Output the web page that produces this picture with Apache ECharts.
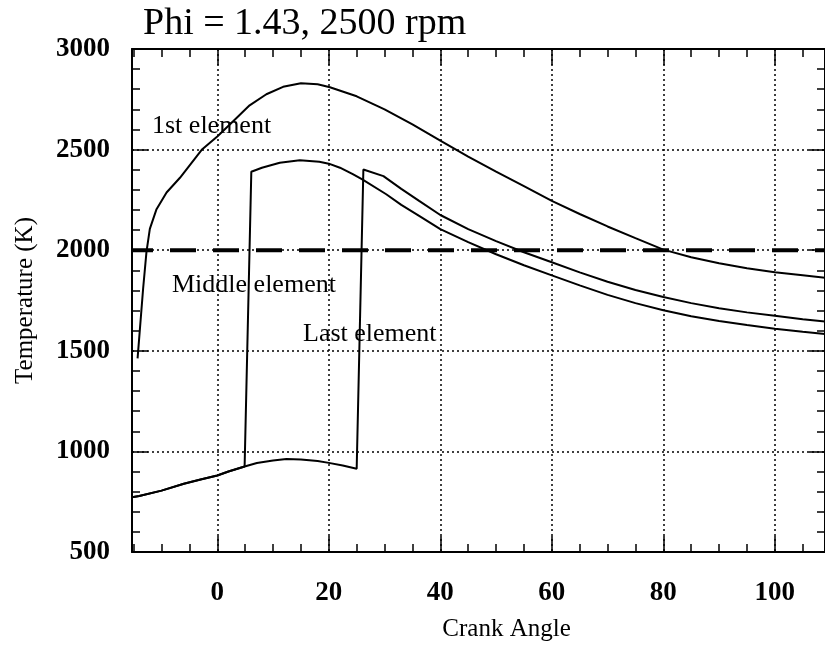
<!DOCTYPE html>
<html>
<head>
<meta charset="utf-8">
<script src="https://cdn.jsdelivr.net/npm/echarts@6/dist/echarts.min.js"></script>
<style>
html,body{margin:0;padding:0;background:#fff;}
#c{width:825px;height:647px;}
</style>
</head>
<body>
<div id="c"></div>
<script>
// ---- data ----
var titleText = 'Phi = 1.43, 2500 rpm';
var xName = 'Crank Angle';
var yName = 'Temperature (K)';
var xMin = -15.3, xMax = 109;
var yMin = 500, yMax = 3000, yStep = 500;
var xMajorTicks = [0, 20, 40, 60, 80, 100];
var xMinorTicks = [-15, -10, -5, 0, 5, 10, 15, 20, 25, 30, 35, 40, 45, 50, 55, 60, 65, 70, 75, 80, 85, 90, 95, 100, 105];

var xFirst = [-14.3, -13.3, -12.7, -12.1, -10.9, -9.1, -6.7, -2.8, 0, 2.8, 5.8, 8.8, 11.8, 15, 18, 20.2, 25, 30, 35, 40, 45, 50, 55, 60, 65, 70, 75, 80, 85, 90, 95, 100, 105, 109];
var tFirst = [1462, 1811, 1993, 2106, 2204, 2287, 2360, 2499, 2565, 2640, 2720, 2775, 2812, 2830, 2825, 2810, 2765, 2700, 2625, 2545, 2465, 2390, 2318, 2245, 2180, 2118, 2060, 2003, 1965, 1935, 1910, 1890, 1875, 1863];

var xMiddle = [-15.3, -14, -10, -6, -3, 0, 2, 4.9, 6.1, 8, 11.2, 14.8, 18.3, 20, 22, 24.3, 26, 30.3, 33, 36.2, 40, 45, 50, 55, 60, 65, 70, 75, 80, 85, 90, 95, 100, 105, 109];
var tMiddle = [772, 778, 805, 839, 860, 880, 900, 925, 2390, 2410, 2435, 2447, 2440, 2430, 2410, 2378, 2352, 2278, 2225, 2171, 2105, 2040, 1980, 1925, 1875, 1825, 1778, 1737, 1702, 1672, 1648, 1628, 1610, 1595, 1584];

var xLast = [-15.3, -14, -10, -6, -3, 0, 2, 4.9, 7.1, 10, 12.4, 15, 18, 20, 22.5, 25, 26.2, 29.8, 33, 36.2, 40, 45, 50, 55, 60, 65, 70, 75, 80, 85, 90, 95, 100, 105, 109];
var tLast = [772, 778, 805, 839, 860, 880, 900, 925, 942, 955, 962, 960, 952, 943, 930, 914, 2401, 2368, 2305, 2245, 2175, 2105, 2045, 1990, 1940, 1890, 1843, 1802, 1767, 1737, 1712, 1691, 1674, 1657, 1645];

var xLimit = [-15.3, 109];
var tLimit = [2000, 2000];

var curveLabels = ['1st element', 'Middle element', 'Last element'];

// ---- chart ----
var FONT = "'Liberation Serif', 'Times New Roman', serif";
function pairs(xs, ys) { return xs.map(function (x, i) { return [x, ys[i]]; }); }
var gridDot = { color: '#000', width: 1.5, type: [2, 3] };

function xAxisDef(pos, ticks, len, withLine, withLabels, withSplit) {
  return {
    type: 'value', position: pos, min: xMin, max: xMax,
    axisLine: { show: withLine, onZero: false, lineStyle: { color: '#000', width: 2 } },
    axisTick: { show: true, inside: true, length: len, customValues: ticks, lineStyle: { color: '#000', width: 1.5 } },
    axisLabel: { show: withLabels, customValues: ticks, margin: 28, color: '#000', fontFamily: FONT, fontSize: 27, fontWeight: 'bold' },
    splitLine: { show: withSplit, lineStyle: gridDot },
    name: withLabels ? xName : '', nameLocation: 'middle', nameGap: 65,
    nameTextStyle: { color: '#000', fontFamily: FONT, fontSize: 25, padding: [0, 0, 0, 56] }
  };
}
function yAxisDef(pos, withLabels) {
  return {
    type: 'value', position: pos, min: yMin, max: yMax, interval: yStep,
    axisLine: { show: true, onZero: false, lineStyle: { color: '#000', width: 2 } },
    axisTick: { show: true, inside: true, length: 16, lineStyle: { color: '#000', width: 1.5 } },
    minorTick: { show: true, splitNumber: 5, length: 8, lineStyle: { color: '#000', width: 1.5 } },
    axisLabel: { show: withLabels, margin: 22, color: '#000', fontFamily: FONT, fontSize: 27, fontWeight: 'bold',
      formatter: function (v) { return String(v); } },
    splitLine: { show: withLabels, lineStyle: gridDot },
    name: withLabels ? yName : '', nameLocation: 'middle', nameGap: 94,
    nameTextStyle: { color: '#000', fontFamily: FONT, fontSize: 25 }
  };
}
function curve(name, xs, ys) {
  return { name: name, type: 'line', xAxisIndex: 0, yAxisIndex: 0, data: pairs(xs, ys),
    showSymbol: false, symbol: 'none', lineStyle: { color: '#000', width: 2 }, z: 5 };
}

var chart = echarts.init(document.getElementById('c'), null, { renderer: 'canvas' });
chart.setOption({
  animation: false,
  backgroundColor: '#fff',
  title: { text: titleText, left: 138, top: 0,
    textStyle: { color: '#000', fontFamily: FONT, fontSize: 38, fontWeight: 'normal' } },
  grid: { left: 132, right: -2, top: 49, bottom: 90, containLabel: false },
  xAxis: [
    xAxisDef('bottom', xMajorTicks, 16, true, true, true),
    xAxisDef('bottom', xMinorTicks, 8, false, false, false),
    xAxisDef('top', xMajorTicks, 16, true, false, false),
    xAxisDef('top', xMinorTicks, 8, false, false, false)
  ],
  yAxis: [yAxisDef('left', true), yAxisDef('right', false)],
  series: [
    curve(curveLabels[0], xFirst, tFirst),
    curve(curveLabels[1], xMiddle, tMiddle),
    curve(curveLabels[2], xLast, tLast),
    { name: 'limit', type: 'line', xAxisIndex: 0, yAxisIndex: 0, data: pairs(xLimit, tLimit),
      showSymbol: false, symbol: 'none', z: 4,
      lineStyle: { color: '#000', width: 4, type: [26, 17], dashOffset: 5 } }
  ],
  graphic: [
    { type: 'text', left: 152, top: 113, style: { text: curveLabels[0], fill: '#000', font: '26px ' + FONT } },
    { type: 'text', left: 172, top: 272, style: { text: curveLabels[1], fill: '#000', font: '26px ' + FONT } },
    { type: 'text', left: 303, top: 321, style: { text: curveLabels[2], fill: '#000', font: '26px ' + FONT } }
  ]
});
</script>
</body>
</html>
